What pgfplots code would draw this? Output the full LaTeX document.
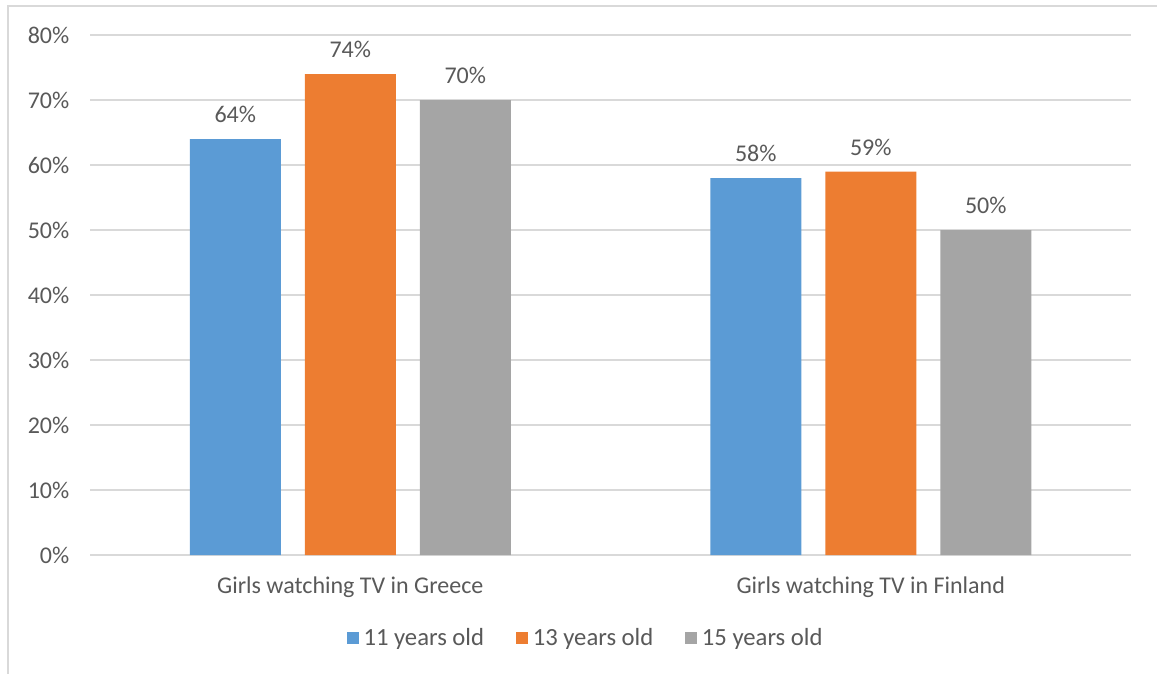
\documentclass[border=0pt]{standalone}
\usepackage{pgfplots}
\pgfplotsset{compat=1.18}
\usepackage{fontspec}
\setmainfont{Carlito}
\definecolor{cblue}{HTML}{5B9BD5}
\definecolor{corange}{HTML}{ED7D31}
\definecolor{cgray}{HTML}{A5A5A5}
\definecolor{ctext}{HTML}{595959}
\definecolor{cgrid}{HTML}{D9D9D9}
\begin{document}
\begin{tikzpicture}
\path[use as bounding box] (0,0) rectangle (867.75pt,-505.5pt);
\draw[cgrid, line width=0.9pt] (6pt,-505.5pt) -- (6pt,-4.5pt) -- (867.75pt,-4.5pt);
\begin{axis}[
  at={(67.5pt,-416.25pt)}, anchor=south west,
  scale only axis, width=780.75pt, height=390pt,
  ybar=18pt, bar width=68.25pt,
  xmin=-0.5, xmax=1.5, ymin=0, ymax=80,
  xtick=data, xticklabels={Girls watching TV in Greece, Girls watching TV in Finland},
  ytick={0,10,...,80},
  yticklabel={\pgfmathprintnumber{\tick}\%},
  /pgf/number format/assume math mode=true,
  axis line style={draw=none},
  major tick length=0pt,
  ymajorgrids, major grid style={cgrid, line width=0.9pt},
  tick label style={font=\fontsize{18}{21}\selectfont, text=ctext},
  yticklabel style={xshift=-12pt},
  xticklabel style={yshift=-12.5pt},
  nodes near coords={\pgfmathprintnumber{\pgfplotspointmeta}\%},
  nodes near coords style={font=\fontsize{18}{21}\selectfont, text=ctext, yshift=8.5pt},
  legend style={at={(0.4765,-0.16)}, anchor=center, draw=none, legend columns=3,
    font=\fontsize{18.5}{21}\selectfont, text=ctext,
    /tikz/every odd column/.append style={column sep=1.5pt},
    /tikz/every even column/.append style={column sep=22pt}},
  legend image code/.code={\fill[#1] (0pt,-4.5pt) rectangle (9pt,4.5pt);},
]
\addplot[fill=cblue, draw=none] coordinates {(0,64) (1,58)};
\addplot[fill=corange, draw=none] coordinates {(0,74) (1,59)};
\addplot[fill=cgray, draw=none] coordinates {(0,70) (1,50)};
\legend{11 years old, 13 years old, 15 years old}
\end{axis}
\end{tikzpicture}
\end{document}
